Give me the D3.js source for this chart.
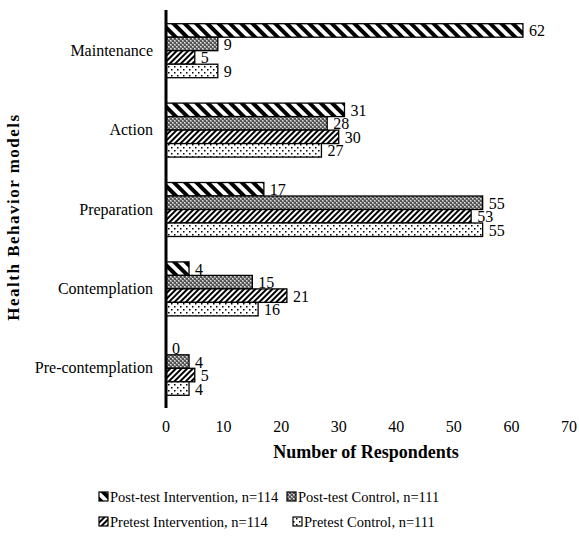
<!DOCTYPE html>
<html>
<head>
<meta charset="utf-8">
<script src="https://cdn.jsdelivr.net/npm/d3@7"></script>
<style>
  body { margin: 0; background: #fff; }
</style>
</head>
<body>
<svg id="chart" width="579" height="536" font-family="'Liberation Serif', 'Times New Roman', Times, 'DejaVu Serif', serif"></svg>
<script>
// data
const categories = ['Maintenance', 'Action', 'Preparation', 'Contemplation', 'Pre-contemplation'];
const seriesNames = [
  'Post-test Intervention, n=114',
  'Post-test Control, n=111',
  'Pretest Intervention, n=114',
  'Pretest Control, n=111',
];
const postTestIntervention = [62, 31, 17, 4, 0];
const postTestControl = [9, 28, 55, 15, 4];
const pretestIntervention = [5, 30, 53, 21, 5];
const pretestControl = [9, 27, 55, 16, 4];
const xTicks = [0, 10, 20, 30, 40, 50, 60, 70];

const seriesValues = [postTestIntervention, postTestControl, pretestIntervention, pretestControl];
const patternIds = ['pat-wide', 'pat-grey', 'pat-dense', 'pat-dots'];

const svg = d3.select('#chart');
const defs = svg.append('defs');

// wide "\" stripes
const p1 = defs.append('pattern').attr('id', 'pat-wide')
  .attr('patternUnits', 'userSpaceOnUse').attr('width', 8).attr('height', 8)
  .attr('patternTransform', 'rotate(-45)');
p1.append('rect').attr('width', 8).attr('height', 8).attr('fill', '#fff');
p1.append('rect').attr('width', 4).attr('height', 8).attr('fill', '#000');

// grey checkered
const p2 = defs.append('pattern').attr('id', 'pat-grey')
  .attr('patternUnits', 'userSpaceOnUse').attr('width', 4).attr('height', 4);
p2.append('rect').attr('width', 4).attr('height', 4).attr('fill', '#9a9a9a');
p2.append('rect').attr('width', 2).attr('height', 2).attr('fill', '#555');
p2.append('rect').attr('x', 2).attr('y', 2).attr('width', 2).attr('height', 2).attr('fill', '#555');
p2.append('rect').attr('x', 2).attr('y', 0).attr('width', 1).attr('height', 1).attr('fill', '#e6e6e6');
p2.append('rect').attr('x', 0).attr('y', 2).attr('width', 1).attr('height', 1).attr('fill', '#e6e6e6');

// dense "/" stripes
const p3 = defs.append('pattern').attr('id', 'pat-dense')
  .attr('patternUnits', 'userSpaceOnUse').attr('width', 4).attr('height', 4)
  .attr('patternTransform', 'rotate(45)');
p3.append('rect').attr('width', 4).attr('height', 4).attr('fill', '#fff');
p3.append('rect').attr('width', 2).attr('height', 4).attr('fill', '#000');

// sparse dots
const p4 = defs.append('pattern').attr('id', 'pat-dots')
  .attr('patternUnits', 'userSpaceOnUse').attr('width', 6).attr('height', 6);
p4.append('rect').attr('width', 6).attr('height', 6).attr('fill', '#fff');
p4.append('rect').attr('x', 0).attr('y', 0).attr('width', 1.5).attr('height', 1.5).attr('fill', '#000');
p4.append('rect').attr('x', 3).attr('y', 3).attr('width', 1.5).attr('height', 1.5).attr('fill', '#000');

const x = d3.scaleLinear().domain([0, 70]).range([166, 569]);
const y = d3.scaleBand().domain(categories).range([11, 408])
  .paddingInner(0.32).paddingOuter(0.16);
const ySub = d3.scaleBand().domain(d3.range(seriesNames.length)).range([0, y.bandwidth()]);

const rows = categories.flatMap((c, ci) =>
  seriesValues.map((vals, si) => ({ category: c, series: si, value: vals[ci] })));

const bars = svg.append('g');
bars.selectAll('rect').data(rows).join('rect')
  .attr('x', x(0))
  .attr('y', (d) => y(d.category) + ySub(d.series))
  .attr('width', (d) => x(d.value) - x(0))
  .attr('height', ySub.bandwidth())
  .attr('fill', (d) => `url(#${patternIds[d.series]})`)
  .attr('stroke', '#000')
  .attr('stroke-width', 1.3);

bars.selectAll('text').data(rows).join('text')
  .attr('x', (d) => x(d.value) + 6)
  .attr('y', (d) => y(d.category) + ySub(d.series) + ySub.bandwidth() / 2 + 6)
  .attr('font-size', 16)
  .text((d) => d.value);

// vertical axis line
svg.append('line')
  .attr('x1', x(0)).attr('x2', x(0))
  .attr('y1', 10).attr('y2', 408)
  .attr('stroke', '#000').attr('stroke-width', 3);

// category labels
svg.append('g').selectAll('text').data(categories).join('text')
  .attr('x', 153)
  .attr('y', (d) => y(d) + y.bandwidth() / 2 + 5)
  .attr('text-anchor', 'end')
  .attr('font-size', 16)
  .text((d) => d);

// x tick labels
svg.append('g').selectAll('text').data(xTicks).join('text')
  .attr('x', (d) => x(d))
  .attr('y', 432)
  .attr('text-anchor', 'middle')
  .attr('font-size', 16)
  .text((d) => d);

svg.append('text')
  .attr('x', 366).attr('y', 458)
  .attr('text-anchor', 'middle')
  .attr('font-size', 18).attr('font-weight', 'bold')
  .text('Number of Respondents');

svg.append('text')
  .attr('transform', 'translate(19,217) rotate(-90)')
  .attr('text-anchor', 'middle')
  .attr('font-size', 17).attr('font-weight', 'bold')
  .attr('letter-spacing', 1.5)
  .text('Health Behavior models');

// legend, two rows of two
const legendPos = [[99, 502], [287, 502], [99, 527], [293, 527]];
const legend = svg.append('g').selectAll('g').data(seriesNames).join('g')
  .attr('transform', (d, i) => `translate(${legendPos[i][0]},${legendPos[i][1]})`);
legend.append('rect')
  .attr('x', 0).attr('y', -10).attr('width', 9).attr('height', 9)
  .attr('fill', (d, i) => `url(#${patternIds[i]})`)
  .attr('stroke', '#000').attr('stroke-width', 1.2);
legend.append('text')
  .attr('x', 11).attr('y', 0)
  .attr('font-size', 14.5)
  .text((d) => d);
</script>
</body>
</html>
